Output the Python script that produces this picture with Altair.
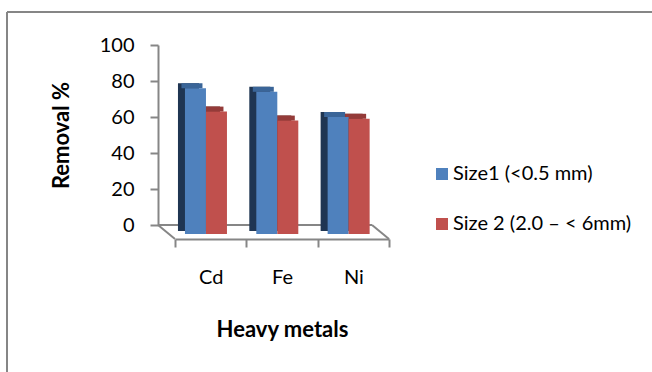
import altair as alt
import pandas as pd

# Removal efficiency by heavy metal for two adsorbent particle sizes
metals = ["Cd", "Fe", "Ni"]
series = ["Size1 (<0.5 mm)", "Size 2 (2.0 – < 6mm)"]
size1 = [76, 74, 60]
size2 = [63, 58, 59]

rows = []
for s, vals in zip(series, [size1, size2]):
    for m, v in zip(metals, vals):
        rows.append({"metal": m, "size": s, "removal": v})
df = pd.DataFrame(rows)

FONT = "Lato"
GRAY = "#868686"
front_colors = ["#4F81BD", "#C0504D"]
top_colors = ["#3A6598", "#943B39"]
side_colors = ["#1F3552", "#6B2826"]

W, H = 214, 180          # plot area
BAR = 21                 # column width in px
DX, DY = 7, 5            # depth of the pseudo-3D columns
DROP = 9                 # front faces stand on the near edge of the floor
# horizontal position of each series' column relative to the category centre
CENTRE = [-15.2, 5.8]

x_enc = alt.X(
    "metal:N", sort=metals,
    scale=alt.Scale(paddingInner=0, paddingOuter=0),
    axis=alt.Axis(
        title="Heavy metals", labelAngle=0, offset=14, tickBand="extent",
        tickSize=8, tickWidth=2, tickColor=GRAY, domainColor=GRAY, domainWidth=2,
        labelFont=FONT, labelFontSize=20, labelColor="black", labelPadding=20,
        titleFont=FONT, titleFontSize=22, titleFontWeight="bold",
        titleColor="black", titlePadding=32,
    ),
)
y_axis = alt.Axis(
    title="Removal %", values=[0, 20, 40, 60, 80, 100], grid=False, offset=17,
    tickSize=8, tickWidth=2, tickColor=GRAY, domainColor=GRAY, domainWidth=2,
    labelFont=FONT, labelFontSize=20, labelColor="black", labelPadding=16,
    titleFont=FONT, titleFontSize=22, titleFontWeight="bold",
    titleColor="black", titlePadding=26,
)
y_enc = alt.Y("removal:Q", stack=None, scale=alt.Scale(domain=[0, 100]), axis=y_axis)

legend = alt.Legend(
    title=None, orient="none", legendX=257, legendY=119, padding=0,
    symbolType="square", symbolSize=144, symbolStrokeWidth=0, symbolOpacity=1,
    labelFont=FONT, labelFontSize=20, labelColor="black", labelOffset=1,
    labelLimit=0, rowPadding=30,
)
color_enc = alt.Color("size:N", sort=series,
                      scale=alt.Scale(domain=series, range=front_colors),
                      legend=legend)

backs, tops, fronts = [], [], []
for i, s in enumerate(series):
    part = alt.Chart(df).transform_filter(alt.datum.size == s)
    cx = CENTRE[i]
    # dark side / back of the column
    backs.append(part.mark_bar(
        width=BAR, xOffset=cx - DX, yOffset=-DY, y2Offset=6, color=side_colors[i]
    ).encode(x=x_enc, y=y_enc, y2=alt.datum(0)))
    # top face of the column
    tops.append(part.mark_bar(
        width=BAR, xOffset=cx - DX / 2, yOffset=-DY, y2Offset=0, color=top_colors[i]
    ).encode(x=x_enc, y=y_enc, y2=alt.Y2("removal:Q")))
    # front face of the column
    fronts.append(part.mark_bar(
        width=BAR, xOffset=cx, y2Offset=DROP
    ).encode(x=x_enc, y=y_enc, y2=alt.datum(0), color=color_enc))

one = alt.Data(values=[{}])
rule = dict(color=GRAY, strokeWidth=2)

# floor of the 3D plot: back edge and the two side edges
floor_back = alt.Chart(one).mark_rule(**rule).encode(
    x=alt.value(-17), x2=alt.value(197), y=alt.value(H), y2=alt.value(H))
floor_left = alt.Chart(one).mark_rule(**rule).encode(
    x=alt.value(-17), x2=alt.value(0), y=alt.value(H), y2=alt.value(H + 14))
floor_right = alt.Chart(one).mark_rule(**rule).encode(
    x=alt.value(197), x2=alt.value(W), y=alt.value(H), y2=alt.value(H + 14))

# frame around the chart
frame_top = alt.Chart(one).mark_rule(**rule).encode(
    x=alt.value(-168), x2=alt.value(480), y=alt.value(-33), y2=alt.value(-33))
frame_left = alt.Chart(one).mark_rule(**rule).encode(
    x=alt.value(-168), x2=alt.value(-168), y=alt.value(-33), y2=alt.value(330))

chart = alt.layer(
    frame_top, frame_left, floor_back, floor_left, floor_right,
    *backs, *tops, *fronts
).properties(
    width=W, height=H,
    autosize=alt.AutoSizeParams(type="none"),
    padding={"left": 175, "top": 45, "right": 652 - 175 - W, "bottom": 372 - 45 - H},
    background="white",
).configure_view(stroke=None)

chart.save("out.html", embed_options={"renderer": "svg", "actions": False})
